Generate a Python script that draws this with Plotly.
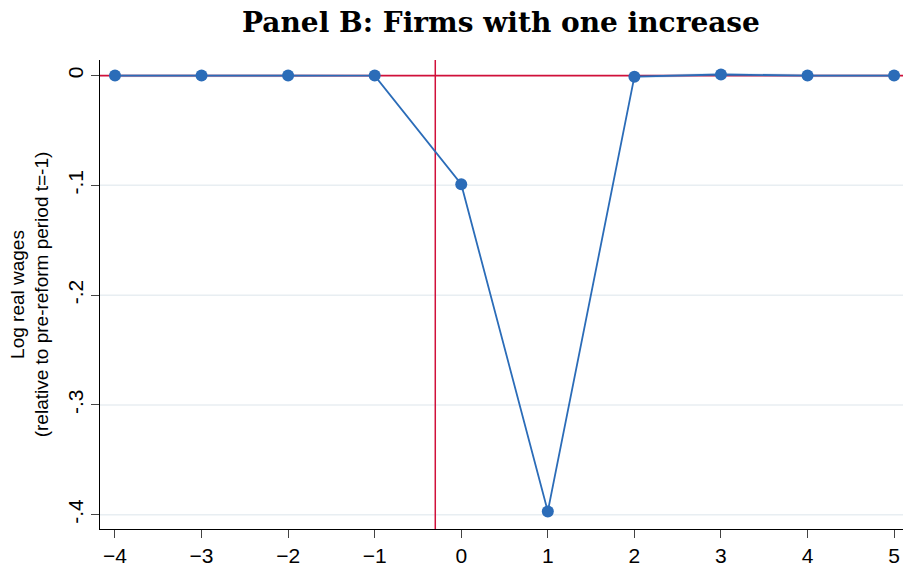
import plotly.graph_objects as go

periods = [-4, -3, -2, -1, 0, 1, 2, 3, 4, 5]
coef = [0.0, 0.0, 0.0, 0.0, -0.099, -0.397, -0.001, 0.001, 0.0, 0.0]
ci_low = [-0.0015, -0.0015, -0.0015, 0.0, -0.0995, -0.3975, -0.0025, -0.0005, -0.0015, -0.0015]
ci_high = [0.0015, 0.0015, 0.0015, 0.0, -0.0985, -0.3965, 0.0005, 0.0025, 0.0015, 0.0015]
reform_x = -0.3
y_ticks = [0, -0.1, -0.2, -0.3, -0.4]
y_tick_labels = ["0", "-.1", "-.2", "-.3", "-.4"]
x_ticks = [-4, -3, -2, -1, 0, 1, 2, 3, 4, 5]

blue = "#2b6cb8"
red = "#d0103a"
grid = "#e8eef2"

W, H = 904, 568

fig = go.Figure()
fig.add_trace(go.Scatter(x=periods, y=ci_high, mode="lines", line=dict(width=0), showlegend=False, hoverinfo="skip"))
fig.add_trace(go.Scatter(x=periods, y=ci_low, mode="lines", line=dict(width=0), fill="tonexty",
                         fillcolor="rgba(43,108,184,0.15)", showlegend=False, hoverinfo="skip"))
# gridlines as shapes so the red reference lines sit above them
for v in y_ticks:
    if v != 0:
        fig.add_hline(y=v, line=dict(color=grid, width=1.5), layer="below")
fig.add_hline(y=0, line=dict(color=red, width=1.8), layer="below")
fig.add_vline(x=reform_x, line=dict(color=red, width=1.5), layer="below")
fig.add_trace(go.Scatter(x=periods, y=coef, mode="lines+markers",
                         line=dict(color=blue, width=1.8),
                         marker=dict(color=blue, size=12), showlegend=False))

fig.update_layout(
    width=W, height=H,
    margin=dict(l=100, r=1, t=60, b=36),
    paper_bgcolor="white", plot_bgcolor="white",
    font=dict(family="Liberation Sans, Arial, sans-serif", color="black"),
    title=dict(text="<b>Panel B: Firms with one increase</b>", x=501 / W, xanchor="center",
               y=1 - 22 / H, yanchor="middle",
               font=dict(family="DejaVu Serif, serif", size=28, color="black")),
)
fig.update_xaxes(range=[-4.173, 5.103], tickvals=x_ticks, ticks="outside", ticklen=8, tickwidth=1.2,
                 showline=True, linecolor="black", linewidth=1.2, showgrid=False, zeroline=False,
                 tickfont=dict(size=21))
fig.update_yaxes(range=[-0.413, 0.0142], tickvals=y_ticks, ticktext=y_tick_labels, tickangle=-90,
                 ticks="outside", ticklen=8, tickwidth=1.2,
                 showline=True, linecolor="black", linewidth=1.2,
                 showgrid=False, zeroline=False,
                 tickfont=dict(size=21),
                 title=dict(text="Log real wages<br>(relative to pre-reform period t=-1)", font=dict(size=19), standoff=9))

fig.write_html("out.html", config={"displayModeBar": False},
               post_script="document.body.style.margin='0';document.body.style.overflow='hidden';")
